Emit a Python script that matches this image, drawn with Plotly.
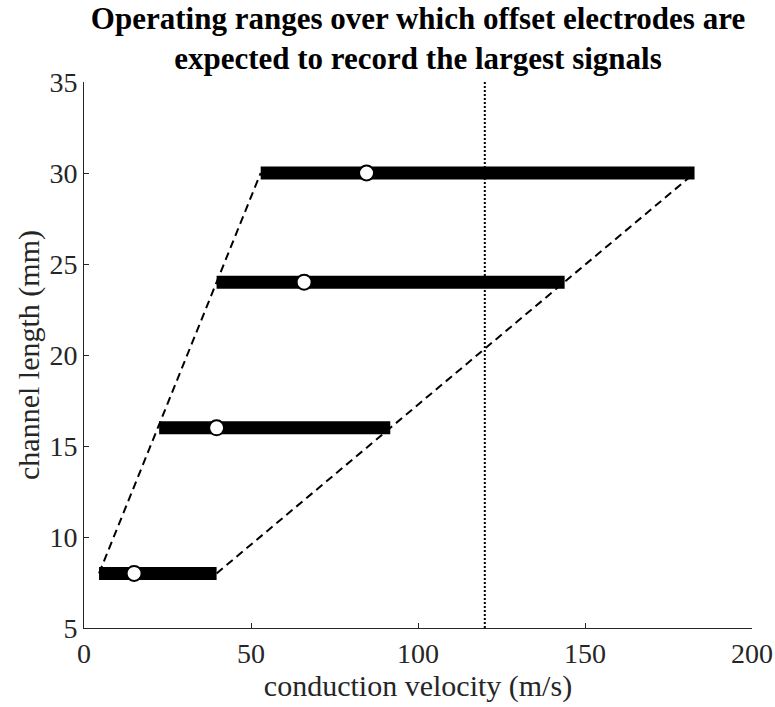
import plotly.graph_objects as go

# Channel lengths (mm) and velocity operating ranges (m/s)
channel_length = [8, 16, 24, 30]
velocity_low = [4.5, 22.5, 39.7, 52.9]
velocity_high = [39.7, 91.7, 143.9, 182.8]
velocity_mid = [15.0, 39.7, 65.9, 84.6]
reference_velocity = 120

x_ticks = [0, 50, 100, 150, 200]
y_ticks = [5, 10, 15, 20, 25, 30, 35]

SERIF = "Liberation Serif, Times New Roman, serif"

fig = go.Figure()

# Dashed envelopes joining the lower and upper range ends
for ends in (velocity_low, velocity_high):
    fig.add_trace(go.Scatter(
        x=[ends[0], ends[-1]], y=[channel_length[0], channel_length[-1]],
        mode="lines", line=dict(color="black", width=2, dash="8px,5px"),
        showlegend=False, hoverinfo="skip"))

# Vertical dotted reference velocity
fig.add_trace(go.Scatter(
    x=[reference_velocity, reference_velocity], y=[y_ticks[0], y_ticks[-1]],
    mode="lines", line=dict(color="black", width=2, dash="2px,2px"),
    showlegend=False, hoverinfo="skip"))

# Thick range bars
for L, lo, hi in zip(channel_length, velocity_low, velocity_high):
    fig.add_trace(go.Scatter(
        x=[lo, hi], y=[L, L], mode="lines",
        line=dict(color="black", width=13),
        showlegend=False))

# Centre markers
fig.add_trace(go.Scatter(
    x=velocity_mid, y=channel_length, mode="markers",
    marker=dict(symbol="circle", size=15, color="white",
                line=dict(color="black", width=2)),
    showlegend=False))

axis_common = dict(
    showgrid=False, zeroline=False, showline=True, automargin=False,
    linecolor="#262626", linewidth=1,
    ticks="inside", ticklen=5, tickwidth=1, tickcolor="#262626",
    tickfont=dict(family=SERIF, size=28, color="#262626"),
)

fig.update_layout(
    width=775, height=707,
    margin=dict(l=84, r=23, t=82, b=79),
    paper_bgcolor="white", plot_bgcolor="white",
    title=dict(
        text="<b>Operating ranges over which offset electrodes are<br>expected to record the largest signals</b>",
        x=(84 + 752) / 2 / 775, xanchor="center", xref="container",
        y=1 - 29 / 707, yanchor="middle", yref="container",
        font=dict(family=SERIF, size=31, color="black")),
    xaxis=dict(range=[0, 200], tickvals=x_ticks,
               title=dict(text="conduction velocity (m/s)",
                          font=dict(family=SERIF, size=30, color="#262626"),
                          standoff=3),
               **axis_common),
    yaxis=dict(range=[5, 35], tickvals=y_ticks,
               title=dict(text="channel length (mm)",
                          font=dict(family=SERIF, size=30, color="#262626"),
                          standoff=0),
               **axis_common),
)

fig.write_html("out.html")
